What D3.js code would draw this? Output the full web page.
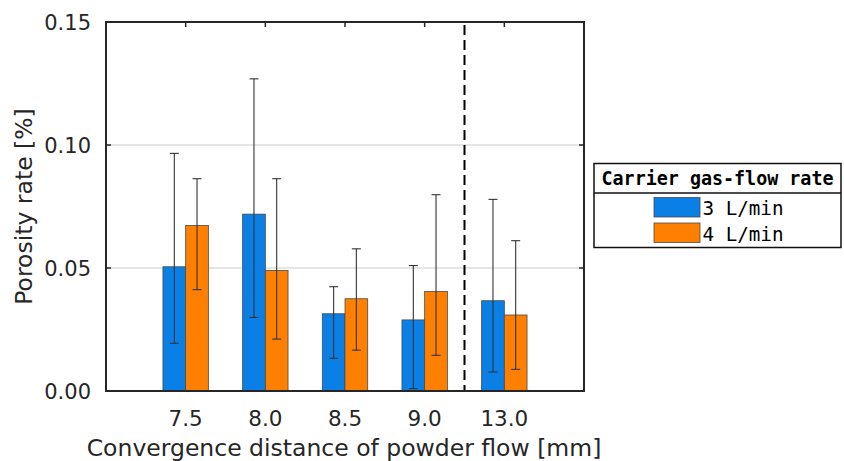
<!DOCTYPE html>
<html>
<head>
<meta charset="utf-8">
<script src="https://cdn.jsdelivr.net/npm/d3@7"></script>
<style>
  html, body { margin: 0; padding: 0; background: #fff; }
  svg { display: block; }
</style>
</head>
<body>
<svg id="chart" width="844" height="461"></svg>
<script>
// Porosity rate by convergence distance, two carrier gas-flow rates
const categories = ["7.5", "8.0", "8.5", "9.0", "13.0"];
const seriesNames = ["3 L/min", "4 L/min"];
const mean3 = [0.0505, 0.0719, 0.0314, 0.0289, 0.0367];
const low3  = [0.0194, 0.0299, 0.0133, 0.0010, 0.0077];
const high3 = [0.0966, 0.1269, 0.0424, 0.0510, 0.0779];
const mean4 = [0.0673, 0.0490, 0.0375, 0.0405, 0.0309];
const low4  = [0.0412, 0.0211, 0.0166, 0.0145, 0.0088];
const high4 = [0.0863, 0.0863, 0.0578, 0.0798, 0.0611];
const yTicks = [0, 0.05, 0.10, 0.15];
const dividerPos = 4.5;   // separates the 13.0 mm group
const legendTitle = "Carrier gas-flow rate";
const xTitle = "Convergence distance of powder flow [mm]";
const yTitle = "Porosity rate [%]";

const colors = ["#0a7fe6", "#ff8000"];
const series = [
  { name: seriesNames[0], mean: mean3, low: low3, high: high3, color: colors[0], side: -1 },
  { name: seriesNames[1], mean: mean4, low: low4, high: high4, color: colors[1], side: 0 }
];

const svg = d3.select("#chart");
const L = 106, R = 584, T = 22, B = 391;
const x = d3.scaleLinear().domain([0, categories.length + 1]).range([L, R]);
const y = d3.scaleLinear().domain([0, 0.15]).range([B, T]);
const barW = 0.285; // in category units

const sans = "'DejaVu Sans', sans-serif";
const mono = "'DejaVu Sans Mono', monospace";

// grid lines
svg.append("g").selectAll("line")
  .data(yTicks.filter(d => d > 0 && d < 0.15))
  .join("line")
  .attr("x1", L).attr("x2", R)
  .attr("y1", d => y(d)).attr("y2", d => y(d))
  .attr("stroke", "#dcdcdc").attr("stroke-width", 1.5);

// inward ticks on all four sides
const tickLen = 5;
const tk = svg.append("g").attr("stroke", "#262626").attr("stroke-width", 1.5);
categories.forEach((c, i) => {
  tk.append("line").attr("x1", x(i + 1)).attr("x2", x(i + 1)).attr("y1", T).attr("y2", T + tickLen);
  tk.append("line").attr("x1", x(i + 1)).attr("x2", x(i + 1)).attr("y1", B).attr("y2", B - tickLen);
});
yTicks.forEach(v => {
  tk.append("line").attr("x1", L).attr("x2", L + tickLen).attr("y1", y(v)).attr("y2", y(v));
  tk.append("line").attr("x1", R).attr("x2", R - tickLen).attr("y1", y(v)).attr("y2", y(v));
});

// bars
series.forEach(s => {
  svg.append("g").selectAll("rect")
    .data(s.mean)
    .join("rect")
    .attr("x", (d, i) => x(i + 1 + s.side * barW))
    .attr("width", x(barW) - x(0))
    .attr("y", d => y(d))
    .attr("height", d => y(0) - y(d))
    .attr("fill", s.color)
    .attr("stroke", "#4a4a4a").attr("stroke-width", 0.8);
});

// error bars
const capW = 4.5;
series.forEach(s => {
  const g = svg.append("g").attr("stroke", "#333").attr("stroke-width", 1.1).attr("fill", "none");
  s.mean.forEach((m, i) => {
    const cx = x(i + 1 + s.side * barW + barW / 2);
    g.append("line").attr("x1", cx).attr("x2", cx).attr("y1", y(s.low[i])).attr("y2", y(s.high[i]));
    g.append("line").attr("x1", cx - capW).attr("x2", cx + capW).attr("y1", y(s.high[i])).attr("y2", y(s.high[i]));
    g.append("line").attr("x1", cx - capW).attr("x2", cx + capW).attr("y1", y(s.low[i])).attr("y2", y(s.low[i]));
  });
});

// dashed divider
svg.append("line")
  .attr("x1", x(dividerPos)).attr("x2", x(dividerPos))
  .attr("y1", y(0.15)).attr("y2", y(0))
  .attr("stroke", "#000").attr("stroke-width", 2)
  .attr("stroke-dasharray", "10 5").attr("stroke-dashoffset", 12);

// axes box
svg.append("rect")
  .attr("x", L).attr("y", T).attr("width", R - L).attr("height", B - T)
  .attr("fill", "none").attr("stroke", "#262626").attr("stroke-width", 2);

// y tick labels
svg.append("g").selectAll("text")
  .data(yTicks)
  .join("text")
  .attr("x", 91).attr("y", d => y(d)).attr("dy", "0.36em")
  .attr("text-anchor", "end")
  .attr("font-family", sans).attr("font-size", 21).attr("fill", "#262626")
  .text(d3.format(".2f"));

// x tick labels
svg.append("g").selectAll("text")
  .data(categories)
  .join("text")
  .attr("x", (d, i) => x(i + 1)).attr("y", 425.5)
  .attr("text-anchor", "middle")
  .attr("font-family", sans).attr("font-size", 21.5).attr("fill", "#262626")
  .text(d => d);

// axis titles
svg.append("text")
  .attr("x", 344).attr("y", 456)
  .attr("text-anchor", "middle")
  .attr("font-family", sans).attr("font-size", 23.5).attr("fill", "#262626")
  .text(xTitle);

svg.append("text")
  .attr("transform", `translate(31.5,${(T + B) / 2}) rotate(-90)`)
  .attr("text-anchor", "middle")
  .attr("font-family", sans).attr("font-size", 23.5).attr("fill", "#262626")
  .text(yTitle);

// legend
const lg = svg.append("g");
lg.append("rect").attr("x", 594).attr("y", 163.5).attr("width", 247).attr("height", 84)
  .attr("fill", "#fff").attr("stroke", "#111").attr("stroke-width", 1.5);
lg.append("line").attr("x1", 594).attr("x2", 841).attr("y1", 193).attr("y2", 193)
  .attr("stroke", "#111").attr("stroke-width", 1.5);
lg.append("text").attr("x", 601.5).attr("y", 185)
  .attr("font-family", mono).attr("font-weight", "bold").attr("font-size", 19)
  .attr("textLength", 232).attr("lengthAdjust", "spacingAndGlyphs").attr("fill", "#000")
  .text(legendTitle);
series.forEach((s, i) => {
  const top = 197.5 + i * 25.5;
  lg.append("rect").attr("x", 654).attr("y", top).attr("width", 46).attr("height", 19.5)
    .attr("fill", s.color).attr("stroke", "#4a4a4a").attr("stroke-width", 0.8);
  lg.append("text").attr("x", 702.5).attr("y", top + 17.5)
    .attr("font-family", mono).attr("font-size", 19)
    .attr("textLength", 81).attr("lengthAdjust", "spacingAndGlyphs").attr("fill", "#000")
    .text(s.name);
});
</script>
</body>
</html>
